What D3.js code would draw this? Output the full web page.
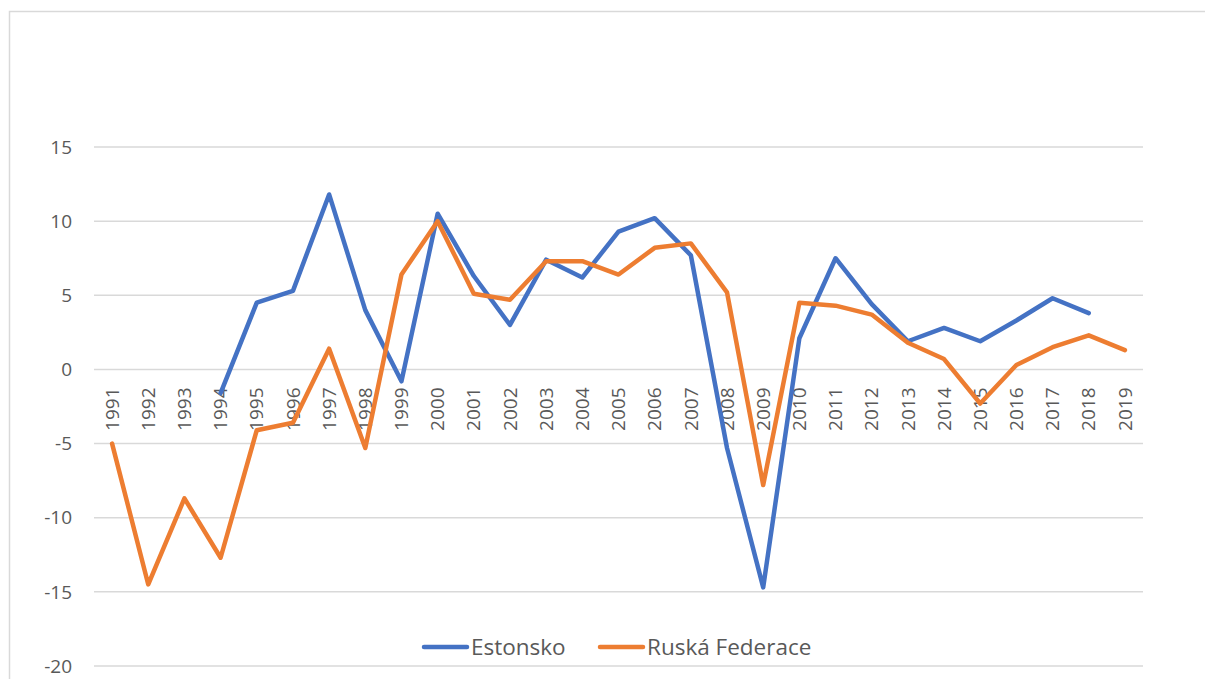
<!DOCTYPE html>
<html>
<head>
<meta charset="utf-8">
<script src="https://cdn.jsdelivr.net/npm/d3@7"></script>
<style>
  body { margin: 0; background: #fff; }
  text { font-family: "Open Sans", sans-serif; fill: #595959; }
</style>
</head>
<body>
<div id="graph"></div>
<script>
// years on the x axis
const years = ["1991","1992","1993","1994","1995","1996","1997","1998","1999","2000",
  "2001","2002","2003","2004","2005","2006","2007","2008","2009","2010",
  "2011","2012","2013","2014","2015","2016","2017","2018","2019"];

// Estonsko starts in 1994 (null = no value)
const estonsko = [null, null, null, -1.6, 4.5, 5.3, 11.8, 4.0, -0.8, 10.5,
  6.3, 3.0, 7.4, 6.2, 9.3, 10.2, 7.7, -5.3, -14.7, 2.1,
  7.5, 4.4, 1.9, 2.8, 1.9, 3.3, 4.8, 3.8, null];

const ruska = [-5.0, -14.5, -8.7, -12.7, -4.1, -3.6, 1.4, -5.3, 6.4, 10.0,
  5.1, 4.7, 7.3, 7.3, 6.4, 8.2, 8.5, 5.2, -7.8, 4.5,
  4.3, 3.7, 1.8, 0.7, -2.3, 0.3, 1.5, 2.3, 1.3];

const yTicks = [-20, -15, -10, -5, 0, 5, 10, 15];

const seriesNames = ["Estonsko", "Ruská Federace"];
const seriesColors = ["#4472C4", "#ED7D31"];

const w = 1205, h = 679;
const plotLeft = 94, plotRight = 1143, plotTop = 147, plotBottom = 666;

const svg = d3.select("#graph").append("svg")
  .attr("width", w)
  .attr("height", h);

// chart border
svg.append("rect")
  .attr("x", 9.5).attr("y", 11.5)
  .attr("width", 1210).attr("height", 700)
  .attr("fill", "none")
  .attr("stroke", "#d9d9d9")
  .attr("stroke-width", 1.5);

const x = d3.scaleBand().domain(years).range([plotLeft, plotRight]);
const y = d3.scaleLinear().domain([-20, 15]).range([plotBottom, plotTop]);

// gridlines
svg.append("g")
  .selectAll("line")
  .data(yTicks)
  .enter().append("line")
  .attr("x1", plotLeft).attr("x2", plotRight)
  .attr("y1", d => y(d)).attr("y2", d => y(d))
  .attr("stroke", "#d9d9d9")
  .attr("stroke-width", 1.5);

// y labels
svg.append("g")
  .selectAll("text")
  .data(yTicks)
  .enter().append("text")
  .attr("x", 72)
  .attr("y", d => y(d))
  .attr("dy", "0.35em")
  .style("text-anchor", "end")
  .style("font-size", "19px")
  .text(d => d);

// x labels, rotated, just under the zero line
svg.append("g")
  .selectAll("g")
  .data(years)
  .enter().append("g")
  .attr("transform", d => "translate(" + (x(d) + x.bandwidth() / 2) + ", " + (y(0) + 18) + ")")
  .append("text")
  .attr("transform", "rotate(-90)")
  .attr("dy", "0.35em")
  .style("text-anchor", "end")
  .style("font-size", "19px")
  .text(d => d);

// lines
const line = d3.line()
  .defined(d => d.v !== null)
  .x(d => x(d.year) + x.bandwidth() / 2)
  .y(d => y(d.v));

[estonsko, ruska].forEach((vals, i) => {
  const pts = years.map((yr, j) => ({ year: yr, v: vals[j] }));
  svg.append("path")
    .datum(pts)
    .attr("d", line)
    .attr("fill", "none")
    .attr("stroke", seriesColors[i])
    .attr("stroke-width", 4.5)
    .attr("stroke-linejoin", "round")
    .attr("stroke-linecap", "round");
});

// legend
const legendX = [424, 600];
const legend = svg.append("g");
seriesNames.forEach((name, i) => {
  legend.append("line")
    .attr("x1", legendX[i]).attr("x2", legendX[i] + 43)
    .attr("y1", 647).attr("y2", 647)
    .attr("stroke", seriesColors[i])
    .attr("stroke-width", 4.5)
    .attr("stroke-linecap", "round");
  legend.append("text")
    .attr("x", legendX[i] + 47)
    .attr("y", 647)
    .attr("dy", "0.35em")
    .style("font-size", "22.5px")
    .text(name);
});
</script>
</body>
</html>
